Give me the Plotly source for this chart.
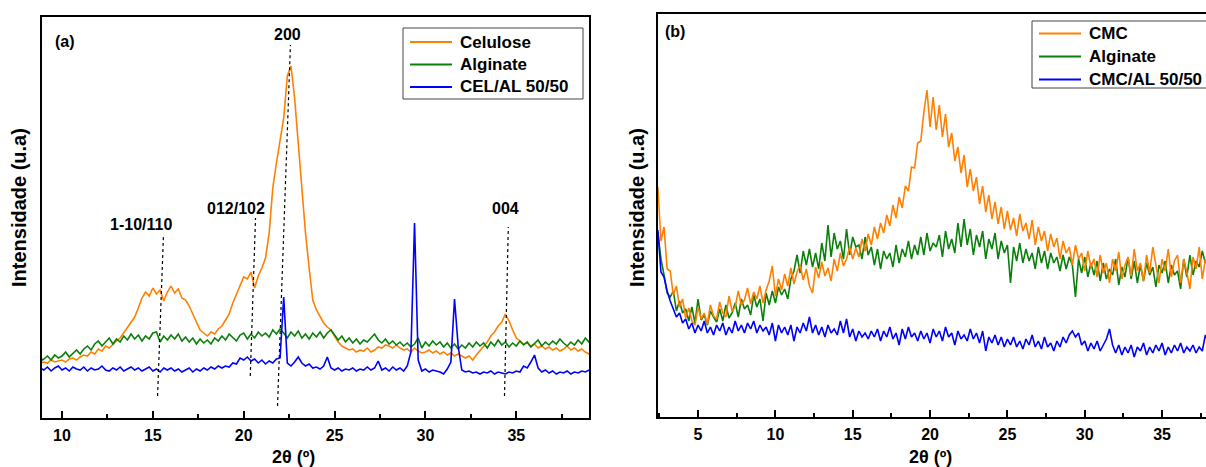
import numpy as np
import plotly.graph_objects as go

# ---- panel (a): celulose / alginate / blend, 2theta grid from 8.8 step 0.2
a_x0, a_step = 8.8, 0.2
celulose = [55, 56, 55, 58, 56, 57, 58, 56, 59, 60, 58, 61, 63, 62, 66, 64, 69, 67, 72, 70,
            74, 77, 80, 85, 90, 96, 101, 110, 120, 126, 122, 130, 124, 128, 117, 126, 132, 125, 129, 120,
            118, 112, 104, 96, 88, 85, 82, 86, 84, 89, 92, 98, 104, 115, 124, 133, 141, 139, 146, 130,
            142, 150, 160, 185, 230, 255, 278, 300, 342, 352, 320, 275, 225, 185, 150, 118, 108, 102, 95, 91,
            88, 82, 76, 72, 70, 68, 69, 66, 68, 67, 70, 66, 68, 71, 70, 73, 72, 70, 73, 70,
            68, 69, 66, 70, 67, 65, 66, 68, 65, 67, 64, 66, 63, 65, 62, 64, 62, 60, 62, 58,
            63, 67, 72, 76, 82, 86, 92, 96, 104, 97, 88, 80, 77, 74, 75, 72, 74, 70, 72, 69,
            71, 68, 70, 67, 69, 72, 68, 70, 67, 69, 66, 64, 66]
alginate_a = [57, 59, 62, 58, 63, 60, 62, 66, 61, 65, 68, 64, 69, 72, 68, 74, 77, 72, 76, 80,
              74, 79, 76, 82, 78, 84, 79, 83, 77, 82, 79, 85, 86, 76, 82, 78, 83, 79, 84, 77,
              81, 76, 80, 74, 79, 75, 78, 74, 80, 77, 82, 78, 84, 80, 77, 83, 85, 79, 84, 80,
              86, 82, 85, 81, 88, 84, 89, 85, 80, 86, 82, 87, 80, 84, 79, 85, 81, 86, 80, 85,
              88, 83, 78, 82, 76, 80, 75, 79, 74, 78, 76, 80, 84, 78, 75, 79, 74, 77, 73, 76,
              72, 75, 71, 74, 80, 70, 76, 72, 77, 73, 76, 71, 75, 70, 74, 69, 73, 70, 75, 71,
              76, 72, 75, 70, 76, 72, 78, 73, 76, 71, 75, 72, 77, 73, 76, 71, 75, 78, 72, 76,
              73, 77, 74, 79, 75, 72, 76, 73, 78, 74, 80, 76, 77]
cel_al = [50, 48, 51, 47, 50, 52, 48, 50, 47, 51, 49, 48, 51, 47, 50, 48, 49, 52, 48, 47,
          50, 48, 51, 47, 49, 51, 48, 50, 47, 49, 51, 47, 49, 46, 50, 48, 50, 47, 49, 46,
          48, 50, 46, 49, 47, 50, 48, 51, 49, 52, 50, 52, 51, 55, 54, 60, 58, 61, 57, 59,
          55, 58, 54, 57, 55, 59, 60, 121, 55, 52, 56, 61, 55, 52, 54, 50, 51, 49, 52, 61,
          50, 48, 50, 47, 49, 48, 50, 47, 49, 48, 51, 48, 50, 57, 48, 50, 47, 51, 48, 50,
          47, 52, 66, 195, 58, 47, 49, 46, 48, 47, 46, 44, 49, 56, 119, 72, 48, 46, 47, 45,
          46, 44, 46, 45, 47, 44, 46, 45, 44, 46, 45, 47, 46, 52, 50, 56, 63, 50, 46, 48,
          45, 47, 44, 46, 45, 47, 44, 46, 45, 47, 46, 48, 47]

# ---- panel (b): CMC / alginate / blend, 2theta grid from 2.4 step 0.2
b_x0, b_step = 2.4, 0.2
cmc = [230, 176, 190, 148, 146, 122, 131, 110, 118, 99, 109, 96, 92, 110, 98, 104, 93, 112, 101, 98,
       115, 104, 100, 121, 106, 110, 126, 112, 117, 129, 113, 125, 118, 131, 114, 127, 136, 151, 121, 138,
       127, 143, 131, 149, 133, 145, 152, 137, 148, 131, 124, 150, 139, 155, 141, 149, 136, 158, 146, 164,
       151, 158, 170, 158, 169, 160, 178, 166, 183, 172, 190, 178, 194, 184, 202, 191, 212, 199, 220, 209,
       231, 226, 250, 249, 274, 276, 305, 327, 290, 320, 287, 312, 280, 303, 270, 284, 256, 270, 244, 262,
       230, 248, 226, 240, 213, 231, 205, 222, 198, 215, 193, 210, 188, 206, 187, 199, 181, 203, 186, 194,
       178, 197, 172, 190, 176, 186, 166, 183, 170, 179, 158, 176, 164, 170, 152, 172, 158, 164, 146, 166,
       150, 158, 140, 162, 144, 154, 134, 158, 146, 165, 138, 152, 160, 141, 168, 146, 154, 136, 162, 144,
       170, 150, 134, 158, 146, 168, 140, 156, 162, 134, 158, 145, 128, 160, 148, 170, 138, 158, 150]
alginate_b = [185, 158, 142, 124, 120, 126, 106, 116, 104, 108, 96, 110, 94, 118, 97, 102, 92, 106, 100, 95,
              108, 96, 112, 99, 104, 114, 100, 118, 108, 112, 102, 122, 110, 118, 96, 124, 112, 126, 114, 130,
              122, 128, 118, 138, 146, 162, 144, 166, 152, 168, 150, 164, 148, 174, 156, 192, 160, 184, 168, 176,
              158, 188, 162, 180, 170, 172, 158, 180, 162, 170, 152, 168, 148, 166, 158, 164, 150, 172, 154, 168,
              160, 176, 158, 172, 162, 180, 162, 184, 166, 174, 170, 182, 160, 186, 168, 178, 164, 194, 170, 198,
              172, 188, 162, 182, 170, 186, 158, 178, 168, 184, 158, 176, 164, 172, 134, 170, 156, 174, 154, 168,
              156, 164, 148, 170, 154, 166, 148, 164, 154, 160, 146, 162, 148, 160, 152, 120, 158, 144, 160, 140,
              154, 142, 156, 136, 154, 138, 148, 142, 158, 132, 150, 140, 160, 138, 156, 134, 152, 136, 154, 142,
              150, 130, 152, 144, 156, 134, 152, 142, 146, 128, 158, 140, 162, 142, 156, 150, 166, 154, 162]
cmc_al = [187, 145, 140, 126, 116, 108, 100, 104, 94, 98, 88, 94, 84, 92, 86, 96, 84, 90, 82, 92,
          86, 94, 82, 90, 84, 96, 86, 92, 84, 94, 88, 96, 84, 92, 86, 90, 82, 94, 76, 92,
          84, 90, 82, 92, 76, 90, 84, 94, 86, 100, 84, 92, 82, 90, 80, 92, 84, 88, 82, 96,
          84, 98, 80, 88, 76, 86, 80, 84, 78, 86, 80, 88, 76, 86, 80, 90, 78, 84, 72, 88,
          78, 90, 80, 84, 76, 86, 78, 84, 74, 88, 80, 86, 76, 90, 80, 84, 72, 86, 78, 82,
          76, 88, 78, 84, 74, 86, 66, 80, 74, 82, 72, 80, 70, 78, 72, 80, 70, 76, 68, 78,
          72, 82, 70, 76, 68, 80, 70, 74, 66, 76, 70, 80, 74, 82, 86, 80, 84, 72, 76, 66,
          74, 68, 76, 66, 72, 78, 88, 72, 64, 72, 62, 70, 64, 72, 60, 70, 66, 74, 62, 70,
          64, 72, 66, 74, 62, 70, 64, 72, 66, 74, 64, 70, 66, 72, 64, 70, 66, 82, 74]

# crystal planes marked on the celulose pattern
hkl_labels = ['1-10/110', '012/102', '200', '004']
hkl_label_x = [14.34, 19.59, 22.41, 34.4]
hkl_label_y = [194, 210, 384, 210]
hkl_bot_x = [15.26, 20.36, 21.86, 34.35]
hkl_bot_y = [22, 42, 12, 22]
hkl_top_x = [15.58, 20.65, 22.57, 34.56]
hkl_top_y = [181, 200, 373, 191]

ORANGE = '#FF8000'
GREEN = '#0A800A'
BLUE = '#0000FF'
FONT = 'Arial, Liberation Sans, sans-serif'

names_a = ['Celulose', 'Alginate', 'CEL/AL 50/50']
names_b = ['CMC', 'Alginate', 'CMC/AL 50/50']
colors = [ORANGE, GREEN, BLUE]


def grid(x0, step, vals):
    return np.round(x0 + step * np.arange(len(vals)), 2)


fig = go.Figure()

for name, vals, col in zip(names_a, [celulose, alginate_a, cel_al], colors):
    fig.add_trace(go.Scatter(x=grid(a_x0, a_step, vals), y=vals, name=name, mode='lines',
                             line=dict(color=col, width=1.6), xaxis='x', yaxis='y', showlegend=False))

for i, lab in enumerate(hkl_labels):
    fig.add_trace(go.Scatter(x=[hkl_bot_x[i], hkl_top_x[i]], y=[hkl_bot_y[i], hkl_top_y[i]],
                             mode='lines', line=dict(color='black', width=1.2, dash='dot'),
                             showlegend=False, hoverinfo='skip', xaxis='x', yaxis='y'))
    fig.add_annotation(x=hkl_label_x[i], y=hkl_label_y[i], xref='x', yref='y', text=lab,
                       showarrow=False, font=dict(size=16, weight='bold'))

# panel (b): alginate drawn under cmc
for idx in [1, 0, 2]:
    vals = [cmc, alginate_b, cmc_al][idx]
    fig.add_trace(go.Scatter(x=grid(b_x0, b_step, vals), y=vals, name=names_b[idx], mode='lines',
                             line=dict(color=colors[idx], width=1.6), xaxis='x2', yaxis='y2',
                             showlegend=False))

W, H = 1206, 467
xax = dict(showline=True, linewidth=2, linecolor='black', mirror=True, showgrid=False, zeroline=False,
           ticks='inside', ticklen=7, tickwidth=2, tickcolor='black', tickmode='linear', tick0=0, dtick=5,
           minor=dict(ticks='inside', ticklen=4, tickwidth=2, tickcolor='black', dtick=2.5, tick0=0),
           tickfont=dict(size=16, weight='bold', color='black'), ticklabelstandoff=2)
yax = dict(showline=True, linewidth=2, linecolor='black', showgrid=False, zeroline=False,
           showticklabels=False, ticks='')

fig.update_layout(
    width=W, height=H, margin=dict(l=0, r=0, t=0, b=0),
    paper_bgcolor='white', plot_bgcolor='white',
    font=dict(family=FONT, color='black'),
    xaxis=dict(xax, domain=[42 / W, 589 / W], range=[8.9, 39.0], anchor='y'),
    yaxis=dict(yax, domain=[1 - 418 / H, 1 - 17 / H], range=[0, 401], mirror=True, anchor='x'),
    xaxis2=dict(xax, domain=[658 / W, 1.0], range=[2.41, 37.84], anchor='y2'),
    yaxis2=dict(yax, domain=[1 - 417 / H, 1 - 14 / H], range=[0, 403], mirror=False, anchor='x2'),
)

txt = dict(showarrow=False, xref='paper', yref='paper', xanchor='center', yanchor='middle',
           font=dict(weight='bold', color='black'))


# boxed legends drawn by hand, Origin style (rows closer than plotly's own legend)
def legend_box(names, left, top, bottom, right, row0, gap):
    fig.add_shape(type='rect', xref='paper', yref='paper', x0=left / W, x1=right / W,
                  y0=1 - bottom / H, y1=1 - top / H, line=dict(color='#444', width=1),
                  fillcolor='white', layer='above')
    for k, (nm, col) in enumerate(zip(names, colors)):
        yy = 1 - (row0 + k * gap) / H
        fig.add_shape(type='line', xref='paper', yref='paper', x0=(left + 7) / W, x1=(left + 49) / W,
                      y0=yy, y1=yy, line=dict(color=col, width=2), layer='above')
        fig.add_annotation(txt, x=(left + 55) / W, y=yy, text=nm, xanchor='left', font_size=17)


legend_box(names_a, 403, 28, 99, 583, 42, 22.5)
legend_box(names_b, 1032, 21, 88, 1212, 33.5, 23)

fig.add_annotation(txt, x=65 / W, y=1 - 41 / H, text='(a)', font_size=16)
fig.add_annotation(txt, x=675 / W, y=1 - 31 / H, text='(b)', font_size=16)
fig.add_annotation(txt, x=293 / W, y=1 - 457 / H, text='2θ (º)', font_size=18)
fig.add_annotation(txt, x=930 / W, y=1 - 457 / H, text='2θ (º)', font_size=18)
fig.add_annotation(txt, x=19 / W, y=1 - 208 / H, text='Intensidade (u.a)', textangle=-90, font_size=20)
fig.add_annotation(txt, x=637 / W, y=1 - 208 / H, text='Intensidade (u.a)', textangle=-90, font_size=20)

# the page body keeps its default 8px margin otherwise
fig.write_html("out.html", config={'displayModeBar': False},
               post_script="document.body.style.margin='0px';")
